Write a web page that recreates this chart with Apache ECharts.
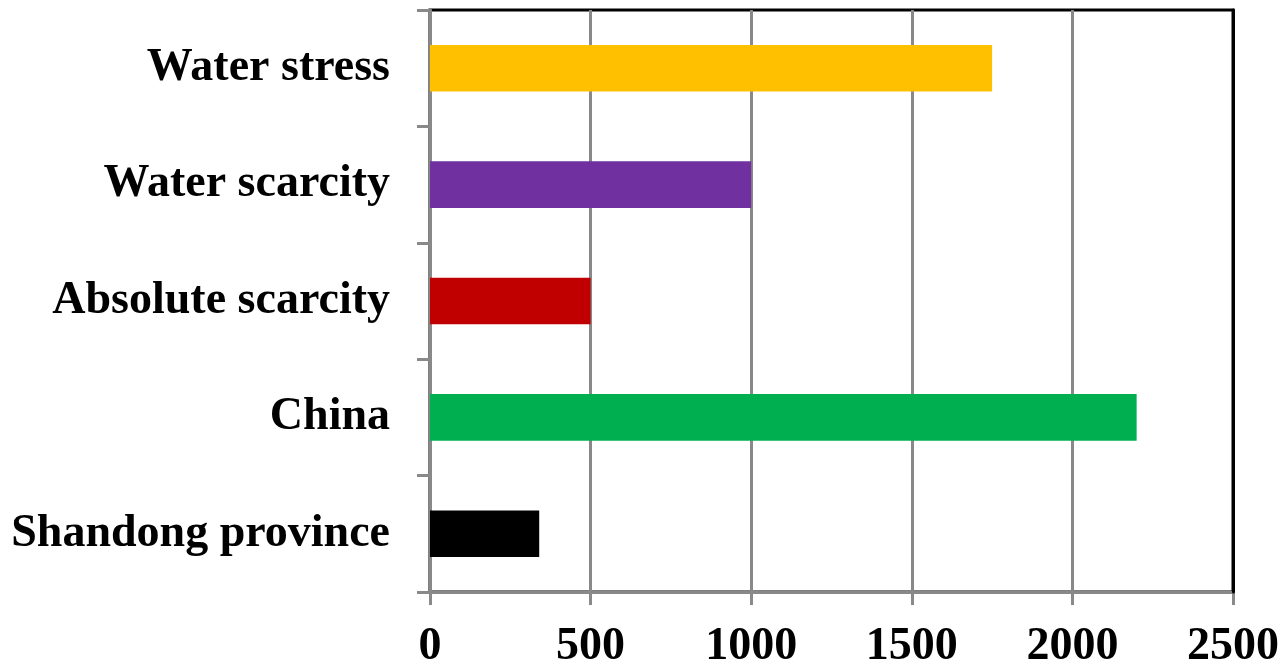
<!DOCTYPE html>
<html>
<head>
<meta charset="utf-8">
<script src="https://cdn.jsdelivr.net/npm/echarts@6/dist/echarts.min.js"></script>
<style>
  html, body { margin: 0; padding: 0; background: #ffffff; }
  #chart { width: 1284px; height: 663px; }
</style>
</head>
<body>
<div id="chart"></div>
<script>
// Per-capita water resources compared with scarcity thresholds (bottom to top)
const categories = ['Shandong province', 'China', 'Absolute scarcity', 'Water scarcity', 'Water stress'];
const values = [340, 2200, 500, 1000, 1750];
const barColors = ['#000000', '#00B050', '#C00000', '#7030A0', '#FFC000'];
const xTicks = { min: 0, max: 2500, interval: 500 };

const font = 'Liberation Serif, Times New Roman, serif';
const gray = '#898989';

const chart = echarts.init(document.getElementById('chart'), null, { renderer: 'canvas' });

chart.setOption({
  animation: false,
  backgroundColor: '#ffffff',
  grid: {
    left: 430, right: 51, top: 10, bottom: 71,
    outerBoundsMode: 'none',
    containLabel: false,
    show: true, borderColor: '#000000', borderWidth: 3, backgroundColor: 'transparent'
  },
  xAxis: {
    type: 'value',
    min: xTicks.min, max: xTicks.max, interval: xTicks.interval,
    axisLine: { show: true, lineStyle: { color: gray, width: 3 } },
    axisTick: { show: true, length: 13, lineStyle: { color: gray, width: 3 } },
    splitLine: { show: true, lineStyle: { color: gray, width: 3 } },
    axisLabel: {
      margin: 32,
      formatter: (v) => String(v),
      color: '#000000', fontFamily: font, fontWeight: 'bold', fontSize: 46
    }
  },
  yAxis: [{
    type: 'category',
    data: categories,
    axisLine: { show: true, lineStyle: { color: gray, width: 3 } },
    axisTick: { show: true, length: 13, lineStyle: { color: gray, width: 3 } },
    axisLabel: {
      margin: 40,
      color: '#000000', fontFamily: font, fontWeight: 'bold', fontSize: 46
    }
  }, {
    // right frame edge drawn as a black axis line over the last split line
    type: 'category',
    position: 'right',
    data: categories,
    z: 10,
    axisLine: { show: true, lineStyle: { color: '#000000', width: 3 } },
    axisTick: { show: false },
    axisLabel: { show: false },
    splitLine: { show: false }
  }],
  series: [{
    type: 'bar',
    yAxisIndex: 0,
    barCategoryGap: '60%',
    data: values.map((v, i) => ({ value: v, itemStyle: { color: barColors[i] } }))
  }]
});
</script>
</body>
</html>
